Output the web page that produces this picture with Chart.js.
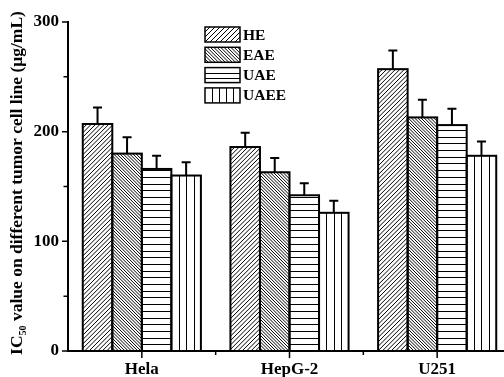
<!DOCTYPE html>
<html>
<head>
<meta charset="utf-8">
<script src="https://cdn.jsdelivr.net/npm/chart.js@4/dist/chart.umd.min.js"></script>
<style>
  html, body { margin: 0; padding: 0; background: #fff; overflow: hidden; width: 504px; height: 377px; }
  #wrap { position: relative; width: 530px; height: 377px; }
</style>
</head>
<body>
<div id="wrap"><canvas id="c"></canvas></div>
<script>
// Cell lines and IC50 values (μg/mL) for each extract
const categories = ['Hela', 'HepG-2', 'U251'];
const seriesNames = ['HE', 'EAE', 'UAE', 'UAEE'];
const heValues   = [207, 186, 257];
const eaeValues  = [180, 163, 213];
const uaeValues  = [166, 142, 206];
const uaeeValues = [160, 126, 178];
const heErrors   = [15, 13, 17];
const eaeErrors  = [15, 13, 16];
const uaeErrors  = [12, 11, 15];
const uaeeErrors = [12, 11, 13];
const yMax = 300;
const yStep = 50;
const yLabelStep = 100;
const yTitleParts = ['IC', '50', ' value on different tumor cell line (μg/mL)'];

const seriesValues = [heValues, eaeValues, uaeValues, uaeeValues];
const seriesErrors = [heErrors, eaeErrors, uaeErrors, uaeeErrors];
const hatchStyles = ['fwd', 'back', 'horiz', 'vert'];

const FONT = '"Liberation Serif", "Times New Roman", serif';

// Fill a rectangle with one of the monochrome hatch styles
function hatch(ctx, style, x0, y0, w, h, opts) {
  opts = opts || {};
  ctx.save();
  ctx.beginPath();
  ctx.rect(x0, y0, w, h);
  ctx.clip();
  ctx.strokeStyle = '#000';
  ctx.lineWidth = 1;
  ctx.beginPath();
  if (style === 'fwd') {
    const s = opts.step || 4.4;
    for (let k = x0 - h; k < x0 + w + s; k += s) { ctx.moveTo(k, y0 + h); ctx.lineTo(k + h, y0); }
  } else if (style === 'back') {
    const s = opts.step || 3.2;
    for (let k = x0 - h; k < x0 + w + s; k += s) { ctx.moveTo(k, y0); ctx.lineTo(k + h, y0 + h); }
  } else if (style === 'horiz') {
    const s = opts.step || 6.7;
    for (let y = y0 + h - s; y > y0 + 1; y -= s) {
      const yy = Math.round(y) + 0.5;
      ctx.moveTo(x0, yy); ctx.lineTo(x0 + w, yy);
    }
  } else {
    const n = Math.max(1, Math.round(w / 7.3));
    for (let i = 1; i < n; i++) {
      const x = Math.round(x0 + w * i / n) + 0.5;
      ctx.moveTo(x, y0); ctx.lineTo(x, y0 + h);
    }
  }
  ctx.stroke();
  ctx.restore();
}

// Hatched bar bodies, shared outlines and error bars
const barDecor = {
  id: 'barDecor',
  afterDatasetsDraw(chart) {
    const ctx = chart.ctx;
    const yScale = chart.scales.y;
    chart.data.datasets.forEach((ds, i) => {
      const meta = chart.getDatasetMeta(i);
      meta.data.forEach((el, j) => {
        const p = el.getProps(['x', 'y', 'base', 'width'], true);
        const left = p.x - p.width / 2;
        const top = Math.min(p.y, p.base);
        const h = Math.abs(p.base - p.y);
        hatch(ctx, hatchStyles[i], left, top, p.width, h);
        ctx.save();
        ctx.strokeStyle = '#000';
        ctx.lineWidth = 2;
        ctx.strokeRect(left, top, p.width, h);
        // error bar (upper half only)
        const err = seriesErrors[i][j];
        const yTop = yScale.getPixelForValue(ds.data[j] + err);
        ctx.beginPath();
        ctx.moveTo(p.x, top);
        ctx.lineTo(p.x, yTop);
        ctx.moveTo(p.x - 4.5, yTop);
        ctx.lineTo(p.x + 4.5, yTop);
        ctx.stroke();
        ctx.restore();
      });
    });
  }
};

// Outward tick marks on both axes (major and minor)
const axisTicks = {
  id: 'axisTicks',
  afterDraw(chart) {
    const ctx = chart.ctx;
    const x = chart.scales.x;
    const y = chart.scales.y;
    const area = chart.chartArea;
    ctx.save();
    ctx.strokeStyle = '#000';
    ctx.lineWidth = 1.5;
    ctx.beginPath();
    for (let v = 0; v <= yMax; v += yStep) {
      const py = y.getPixelForValue(v);
      const len = v % yLabelStep === 0 ? 6 : 4.5;
      ctx.moveTo(area.left - len, py);
      ctx.lineTo(area.left, py);
    }
    categories.forEach((c, i) => {
      const px = x.getPixelForValue(i);
      ctx.moveTo(px, area.bottom);
      ctx.lineTo(px, area.bottom + 7);
    });
    const n = categories.length;
    for (let i = 1; i <= n; i++) {
      const px = area.left + (area.right - area.left) * i / n;
      ctx.moveTo(px, area.bottom);
      ctx.lineTo(px, area.bottom + 4);
    }
    ctx.stroke();
    ctx.restore();
  }
};

// Rotated y-axis title with subscript
const yTitle = {
  id: 'yTitle',
  afterDraw(chart) {
    const ctx = chart.ctx;
    const big = 'bold 17.5px ' + FONT;
    const small = 'bold 10px ' + FONT;
    ctx.save();
    ctx.font = big;
    const w0 = ctx.measureText(yTitleParts[0]).width;
    const w2 = ctx.measureText(yTitleParts[2]).width;
    ctx.font = small;
    const w1 = ctx.measureText(yTitleParts[1]).width;
    const total = w0 + w1 + w2;
    ctx.translate(16, 183);
    ctx.rotate(-Math.PI / 2);
    ctx.fillStyle = '#000';
    ctx.textBaseline = 'alphabetic';
    ctx.textAlign = 'left';
    let cx = -total / 2;
    const base = 6;
    ctx.font = big;
    ctx.fillText(yTitleParts[0], cx, base);
    cx += w0;
    ctx.font = small;
    ctx.fillText(yTitleParts[1], cx, base + 4);
    cx += w1;
    ctx.font = big;
    ctx.fillText(yTitleParts[2], cx, base);
    ctx.restore();
  }
};

// Legend with hatched swatches
const hatchLegend = {
  id: 'hatchLegend',
  afterDraw(chart) {
    const ctx = chart.ctx;
    ctx.save();
    chart.data.datasets.forEach((ds, i) => {
      const bx = 205, by = 27 + i * 20.3, bw = 35, bh = 15;
      ctx.fillStyle = '#fff';
      ctx.fillRect(bx, by, bw, bh);
      const opts = hatchStyles[i] === 'horiz' ? { step: 5 } : (hatchStyles[i] === 'fwd' ? { step: 5 } : { step: 3.4 });
      hatch(ctx, hatchStyles[i], bx, by, bw, bh, opts);
      ctx.strokeStyle = '#000';
      ctx.lineWidth = 1.5;
      ctx.strokeRect(bx, by, bw, bh);
      ctx.fillStyle = '#000';
      ctx.font = 'bold 15.5px ' + FONT;
      ctx.textBaseline = 'middle';
      ctx.textAlign = 'left';
      ctx.fillText(ds.label, bx + bw + 3, by + bh / 2 + 1);
    });
    ctx.restore();
  }
};

new Chart(document.getElementById('c'), {
  type: 'bar',
  data: {
    labels: categories,
    datasets: seriesValues.map((vals, i) => ({
      label: seriesNames[i],
      data: vals,
      backgroundColor: '#fff',
      borderWidth: 0,
      categoryPercentage: 0.8,
      barPercentage: 1.0
    }))
  },
  options: {
    responsive: true,
    maintainAspectRatio: false,
    animation: false,
    layout: { padding: { top: 22, right: 19, left: 0, bottom: 0 } },
    plugins: { legend: { display: false }, tooltip: { enabled: false } },
    scales: {
      x: {
        grid: { display: false, drawTicks: false },
        border: { display: true, color: '#000', width: 2 },
        ticks: { color: '#000', font: { family: FONT, size: 17, weight: 'bold' }, padding: 8 },
        afterFit(s) { s.height = 26; }
      },
      y: {
        min: 0,
        max: yMax,
        grid: { display: false, drawTicks: false },
        border: { display: true, color: '#000', width: 2 },
        ticks: {
          stepSize: yStep,
          color: '#000',
          font: { family: FONT, size: 17, weight: 'bold' },
          padding: 9,
          callback: v => (v % yLabelStep === 0 ? v : '')
        },
        afterFit(s) { s.width = 68; }
      }
    }
  },
  plugins: [barDecor, axisTicks, yTitle, hatchLegend]
});
</script>
</body>
</html>
